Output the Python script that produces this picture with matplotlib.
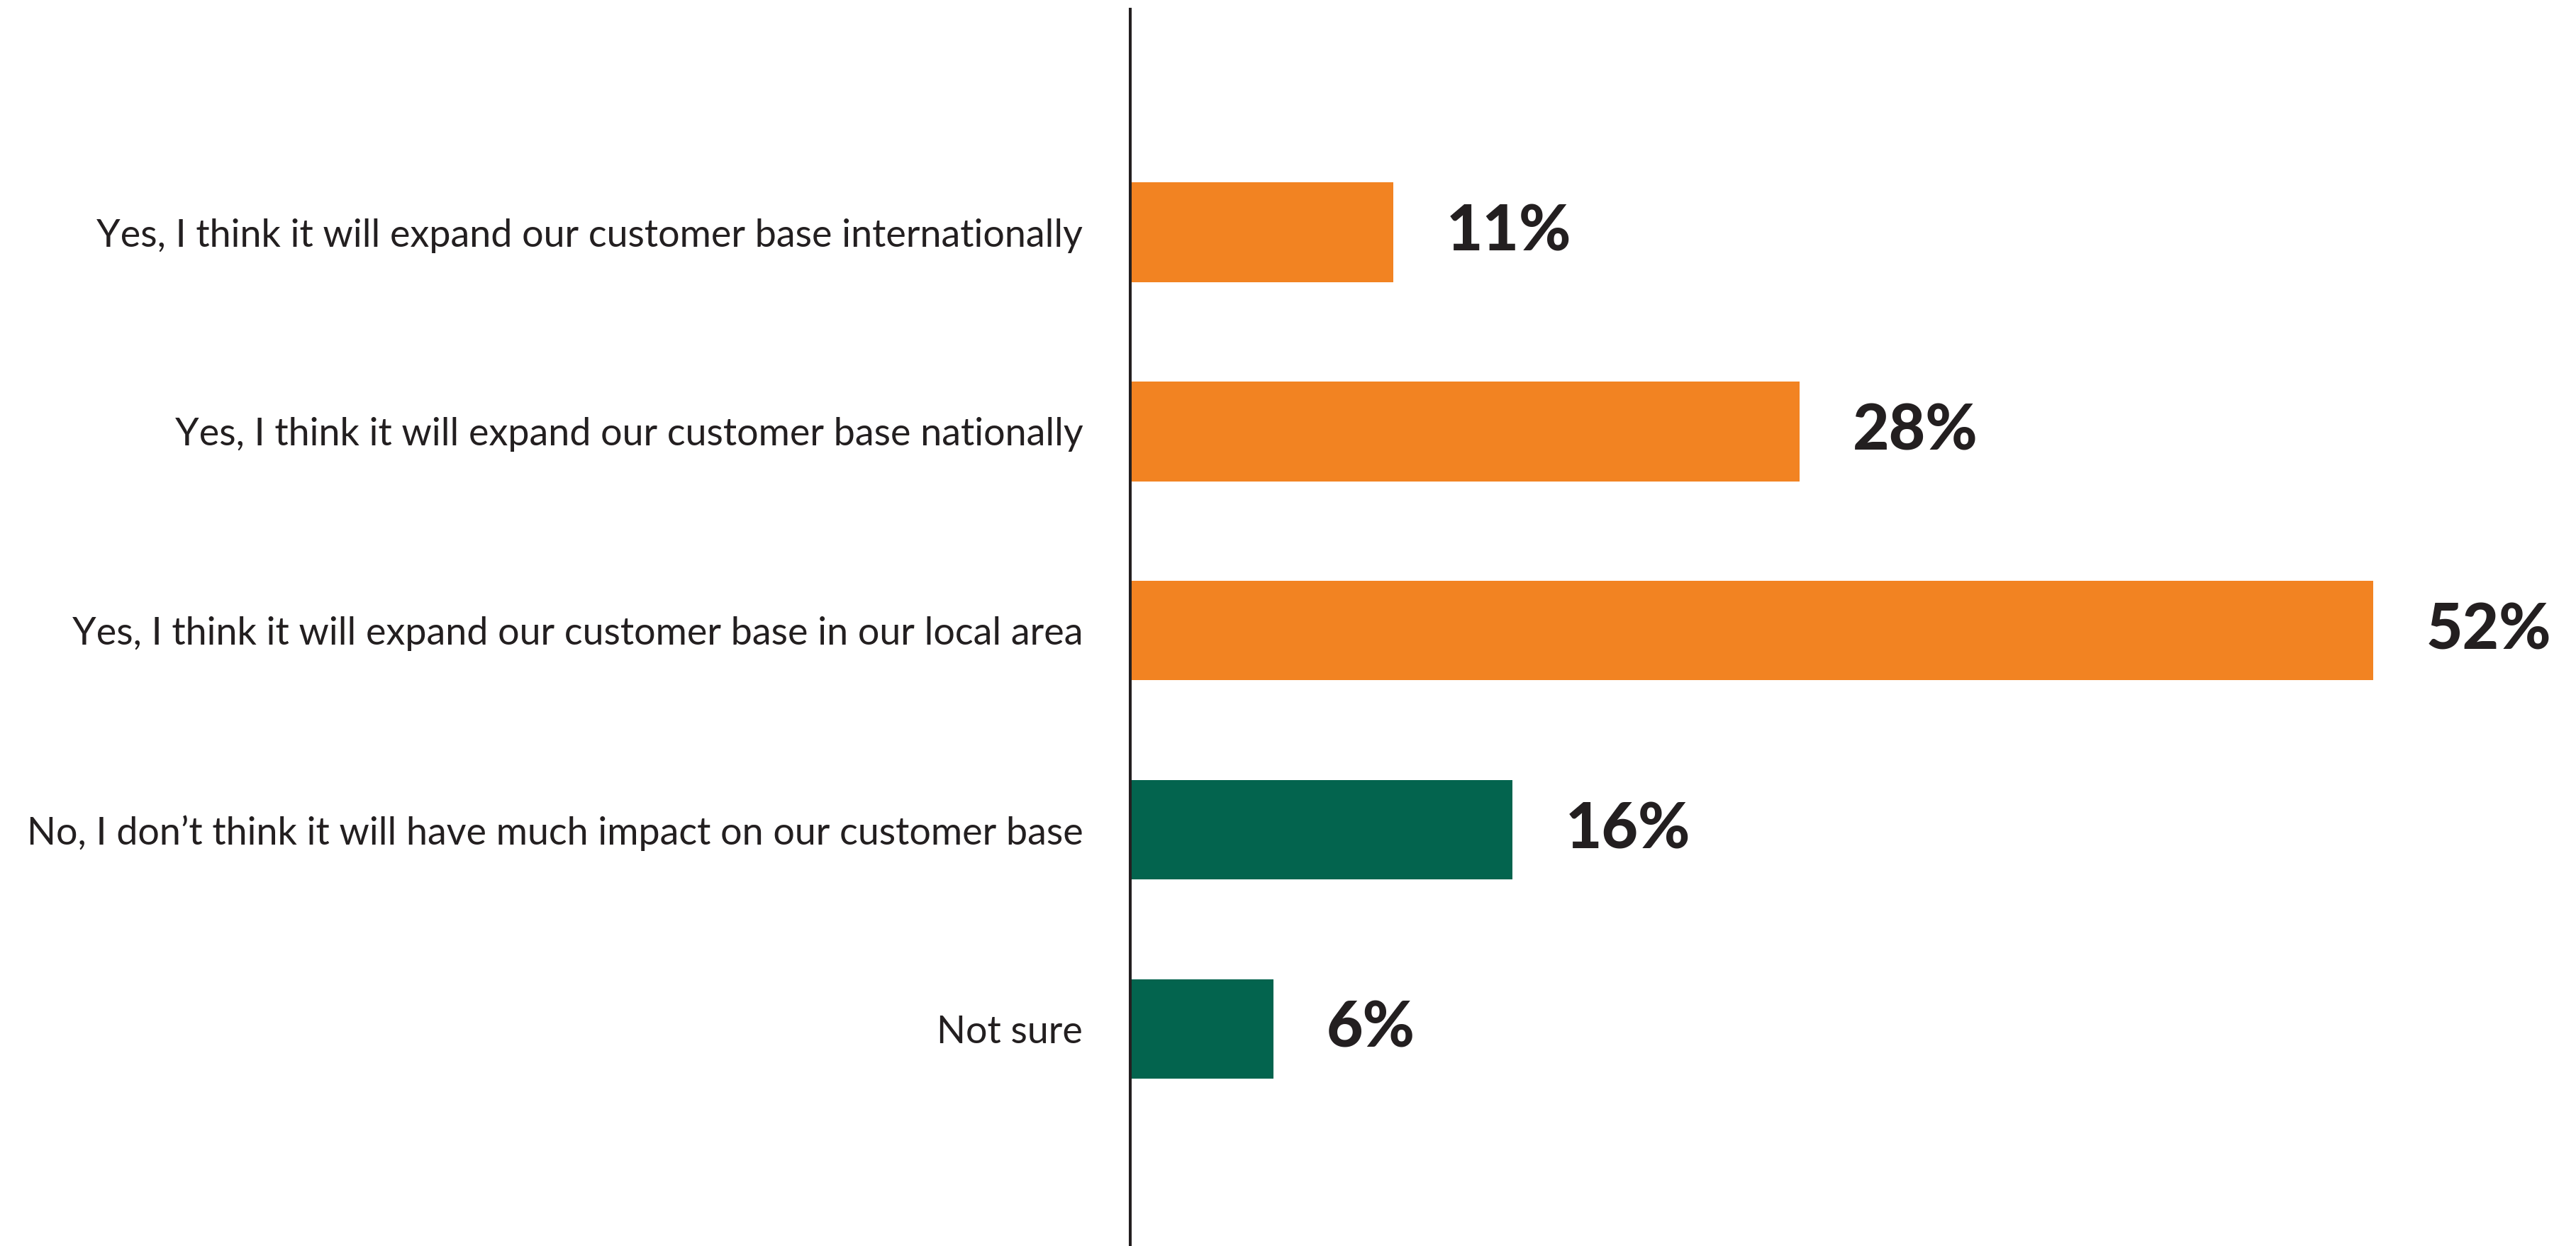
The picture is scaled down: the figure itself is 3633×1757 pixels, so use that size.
import matplotlib.pyplot as plt

# Survey answers, top to bottom
categories = [
    'Yes, I think it will expand our customer base internationally',
    'Yes, I think it will expand our customer base nationally',
    'Yes, I think it will expand our customer base in our local area',
    'No, I don\u2019t think it will have much impact on our customer base',
    'Not sure',
]
values = [11, 28, 52, 16, 6]
colors = ['#F28322', '#F28322', '#F28322', '#03644E', '#03644E']

text_color = '#231F20'

fig = plt.figure(figsize=(36.33, 17.57), dpi=100)
ax = fig.add_axes([0.43875, 0.0, 0.56125, 0.9926])

ypos = list(range(len(categories)))
ax.barh(ypos, values, height=0.5, color=colors, zorder=2)

ax.set_xlim(0, 60.5)
ax.set_ylim(5.09, -1.12)

ax.set_yticks(ypos)
ax.set_yticklabels(categories, fontsize=38.8, family='Lato', color=text_color)
ax.tick_params(axis='y', length=0, pad=48)
ax.set_xticks([])

for side in ['top', 'right', 'bottom']:
    ax.spines[side].set_visible(False)
ax.spines['left'].set_linewidth(2.9)
ax.spines['left'].set_color(text_color)

# value labels to the right of each bar
for y, v in zip(ypos, values):
    ax.annotate(f'{v}%', xy=(v, y), xytext=(54, 0), textcoords='offset points',
                ha='left', va='center', fontsize=64, fontweight='black',
                family='Lato', color=text_color)

fig.savefig('out.png', dpi=100, facecolor='white')
